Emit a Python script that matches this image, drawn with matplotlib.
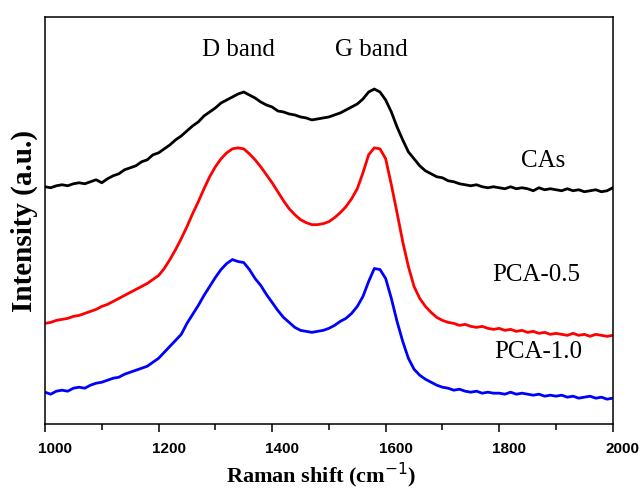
import numpy as np
import matplotlib
matplotlib.use("Agg")
import matplotlib.pyplot as plt
import matplotlib.transforms as mtransforms
from matplotlib.ticker import MultipleLocator

# Raman shift grid (cm-1), one point every 10 cm-1
shift = np.arange(1000, 2001, 10)

cas = [238, 237, 239, 240, 239, 241, 242, 241, 243, 245,
       242, 246, 249, 251, 255, 257, 259, 263, 265, 270,
       272, 276, 280, 285, 289, 294, 299, 303, 309, 313,
       317, 322, 325, 328, 331, 333, 330, 327, 323, 320,
       318, 314, 313, 311, 310, 308, 307, 305, 306, 307,
       308, 310, 312, 315, 318, 321, 326, 333, 336, 333,
       325, 313, 298, 285, 273, 266, 259, 254, 251, 248,
       247, 244, 243, 241, 240, 239, 240, 238, 237, 238,
       237, 236, 238, 236, 237, 236, 234, 237, 235, 236,
       235, 234, 236, 234, 235, 233, 234, 235, 233, 234,
       237]

pca05 = [101, 102, 104, 105, 106, 108, 109, 111, 113, 115,
         118, 120, 123, 126, 129, 132, 135, 138, 141, 145,
         149, 156, 165, 175, 186, 198, 211, 223, 236, 248,
         258, 266, 272, 276, 277, 276, 271, 265, 258, 250,
         242, 233, 224, 216, 210, 205, 202, 200, 200, 201,
         203, 207, 212, 218, 226, 236, 252, 270, 277, 276,
         266, 240, 212, 183, 158, 138, 126, 118, 112, 107,
         104, 102, 101, 99, 100, 98, 97, 98, 96, 95,
         96, 94, 95, 93, 94, 92, 93, 91, 92, 90,
         91, 90, 89, 91, 89, 90, 88, 90, 89, 88,
         89]

pca10 = [32, 30, 33, 34, 33, 36, 37, 36, 39, 41,
         42, 44, 46, 47, 50, 52, 54, 56, 58, 62,
         66, 72, 78, 84, 90, 101, 110, 119, 129, 138,
         147, 155, 161, 165, 163, 162, 155, 146, 139, 130,
         122, 114, 107, 102, 97, 94, 93, 92, 93, 94,
         96, 99, 103, 106, 111, 118, 128, 143, 156, 155,
         146, 126, 103, 83, 66, 55, 49, 45, 42, 39,
         37, 36, 34, 35, 33, 32, 33, 31, 32, 31,
         31, 30, 32, 30, 31, 30, 29, 30, 28, 29,
         28, 29, 27, 28, 26, 27, 28, 26, 27, 25,
         26]

names = ["CAs", "PCA-0.5", "PCA-1.0"]
colors = ["black", "red", "blue"]

plt.rcParams["font.family"] = "Liberation Serif"

fig = plt.figure(figsize=(6.43, 4.92), dpi=100)
ax = fig.add_axes([0.070, 0.138, 0.883, 0.827])

for y, c in zip([cas, pca05, pca10], colors):
    ax.plot(shift, y, color=c, lw=2.0)

ax.set_xlim(1000, 2000)
ax.set_ylim(0, 408)
ax.set_yticks([])

ax.xaxis.set_major_locator(MultipleLocator(200))
ax.xaxis.set_minor_locator(MultipleLocator(100))
ax.tick_params(axis="x", which="major", direction="out", length=6, width=1.1, pad=7)
ax.tick_params(axis="x", which="minor", direction="out", length=4, width=1.1)

# tick numbers sit a little to the right of their ticks
shift_right = mtransforms.ScaledTranslation(10 / 100, 0, fig.dpi_scale_trans)
for lab in ax.get_xticklabels():
    lab.set_family("Liberation Sans")
    lab.set_weight("bold")
    lab.set_fontsize(11)
    lab.set_transform(lab.get_transform() + shift_right)
for sp in ax.spines.values():
    sp.set_linewidth(1.1)

# band labels and sample names
ax.text(1340, 375, "D band", ha="center", va="center", fontsize=18)
ax.text(1575, 375, "G band", ha="center", va="center", fontsize=18)
ax.text(1878, 264, names[0], ha="center", va="center", fontsize=18)
ax.text(1865, 150, names[1], ha="center", va="center", fontsize=18)
ax.text(1868, 72, names[2], ha="center", va="center", fontsize=18)

ax.set_xlabel("Raman shift (cm$^{-1}$)", fontsize=16, fontweight="bold", labelpad=4)
ax.xaxis.set_label_coords(0.487, -0.09)
ax.set_ylabel("Intensity (a.u.)", fontsize=21, fontweight="bold", labelpad=5)

fig.savefig("out.png", dpi=100)
